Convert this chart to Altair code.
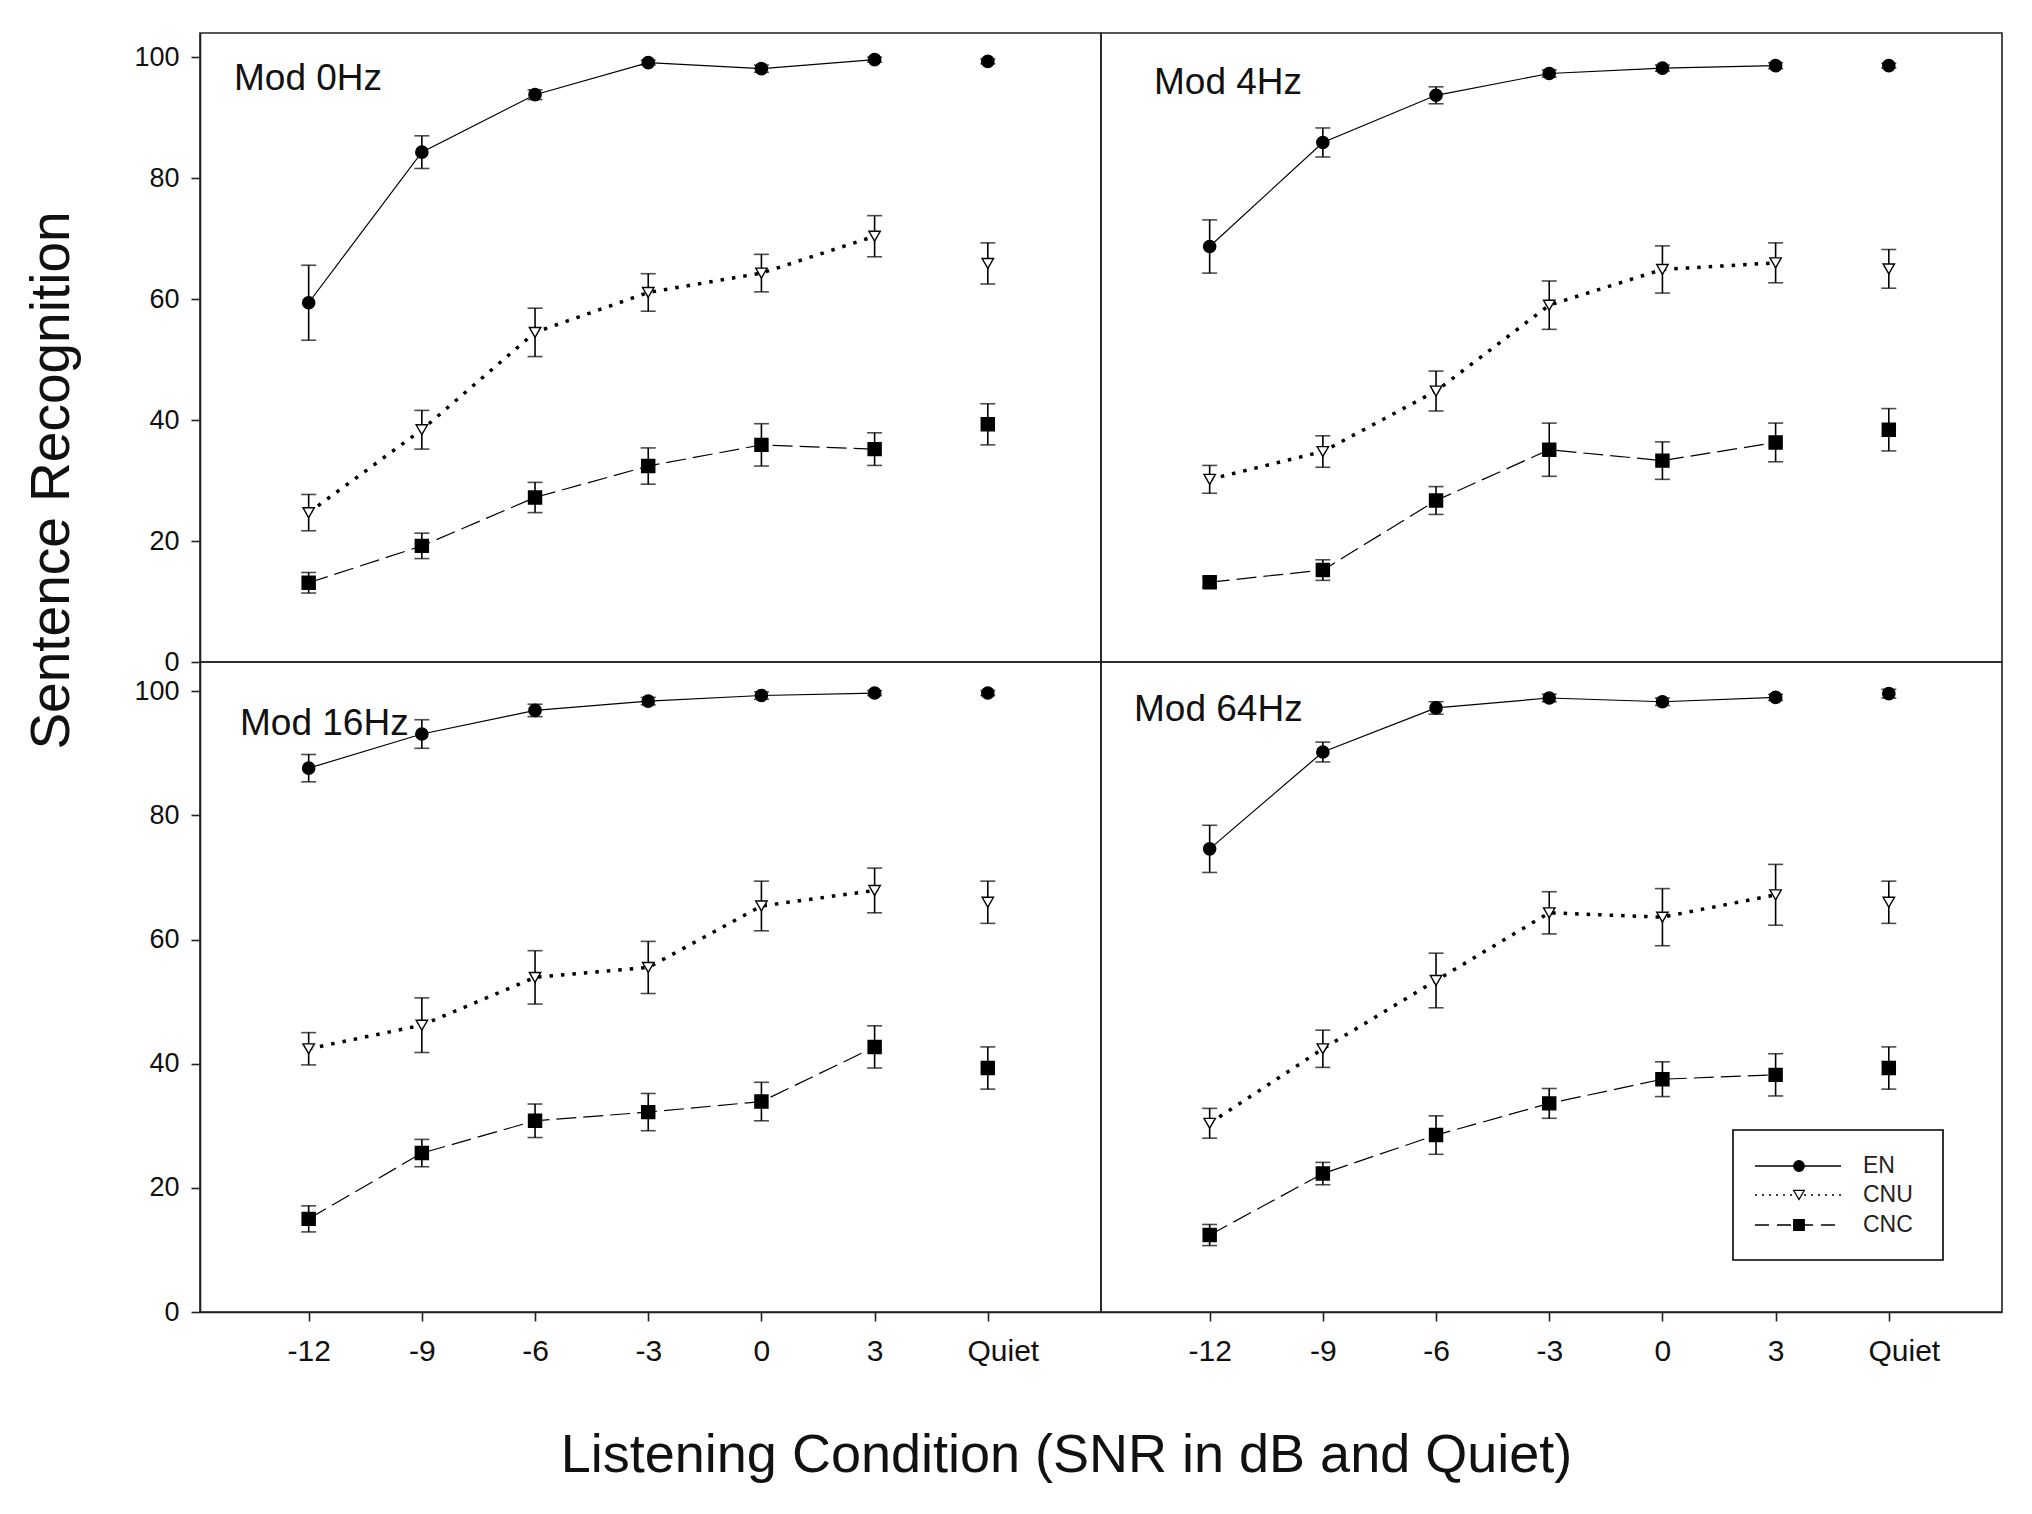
import json
import altair as alt
import pandas as pd

conditions = ["-12", "-9", "-6", "-3", "0", "3", "Quiet"]
series = ["EN", "CNU", "CNC"]
panel_names = ["Mod 0Hz", "Mod 4Hz", "Mod 16Hz", "Mod 64Hz"]

mod0_en = [59.4, 84.3, 93.8, 99.1, 98.1, 99.6, 99.3]
mod0_en_err = [6.2, 2.7, 0.8, 0.4, 0.6, 0.4, 0.4]
mod0_cnu = [24.7, 38.4, 54.5, 61.1, 64.3, 70.4, 65.9]
mod0_cnu_err = [3.0, 3.2, 4.0, 3.1, 3.1, 3.4, 3.4]
mod0_cnc = [13.1, 19.2, 27.2, 32.4, 35.9, 35.2, 39.3]
mod0_cnc_err = [1.7, 2.1, 2.5, 3.0, 3.5, 2.7, 3.4]

mod4_en = [68.7, 85.9, 93.7, 97.3, 98.2, 98.6, 98.6]
mod4_en_err = [4.4, 2.4, 1.4, 0.6, 0.5, 0.5, 0.4]
mod4_cnu = [30.2, 34.8, 44.8, 59.0, 64.9, 66.0, 65.0]
mod4_cnu_err = [2.3, 2.6, 3.3, 4.0, 3.9, 3.3, 3.2]
mod4_cnc = [13.2, 15.2, 26.7, 35.1, 33.3, 36.3, 38.4]
mod4_cnc_err = [0.8, 1.7, 2.3, 4.4, 3.1, 3.2, 3.5]

mod16_en = [87.6, 93.1, 96.9, 98.4, 99.3, 99.7, 99.7]
mod16_en_err = [2.2, 2.3, 1.0, 0.6, 0.6, 0.4, 0.4]
mod16_cnu = [42.4, 46.2, 53.9, 55.5, 65.4, 67.9, 66.0]
mod16_cnu_err = [2.6, 4.4, 4.3, 4.2, 4.0, 3.6, 3.4]
mod16_cnc = [15.0, 25.6, 30.8, 32.2, 33.9, 42.7, 39.3]
mod16_cnc_err = [2.1, 2.2, 2.7, 3.0, 3.1, 3.4, 3.4]

mod64_en = [74.6, 90.2, 97.3, 98.9, 98.3, 99.0, 99.6]
mod64_en_err = [3.8, 1.6, 1.0, 0.6, 0.6, 0.5, 0.7]
mod64_cnu = [30.4, 42.4, 53.4, 64.3, 63.6, 67.2, 66.0]
mod64_cnu_err = [2.4, 3.0, 4.4, 3.4, 4.6, 4.9, 3.4]
mod64_cnc = [12.4, 22.3, 28.5, 33.6, 37.5, 38.2, 39.3]
mod64_cnc_err = [1.7, 1.8, 3.1, 2.4, 2.8, 3.4, 3.4]

table = {
    "Mod 0Hz": {"EN": (mod0_en, mod0_en_err), "CNU": (mod0_cnu, mod0_cnu_err), "CNC": (mod0_cnc, mod0_cnc_err)},
    "Mod 4Hz": {"EN": (mod4_en, mod4_en_err), "CNU": (mod4_cnu, mod4_cnu_err), "CNC": (mod4_cnc, mod4_cnc_err)},
    "Mod 16Hz": {"EN": (mod16_en, mod16_en_err), "CNU": (mod16_cnu, mod16_cnu_err), "CNC": (mod16_cnc, mod16_cnc_err)},
    "Mod 64Hz": {"EN": (mod64_en, mod64_en_err), "CNU": (mod64_cnu, mod64_cnu_err), "CNC": (mod64_cnc, mod64_cnc_err)},
}

rows = []
for p in panel_names:
    for s in series:
        vals, errs = table[p][s]
        for i, (v, e) in enumerate(zip(vals, errs)):
            rows.append({"panel": p, "series": s, "idx": i, "cond": conditions[i],
                         "value": v, "lo": v - e, "hi": v + e})
df = pd.DataFrame(rows)

FONT = "Liberation Sans"
line_style = {
    "EN": dict(strokeWidth=1.2),
    "CNU": dict(strokeWidth=3.5, strokeDash=[3.5, 8], strokeCap="butt"),
    "CNC": dict(strokeWidth=1.2, strokeDash=[20, 7]),
}
point_style = {
    "EN": dict(shape="circle", fill="black", size=150),
    "CNU": dict(shape="triangle-down", fill="white", size=130),
    "CNC": dict(shape="square", fill="black", size=170),
}
label_expr = json.dumps(conditions) + "[datum.value]"


def panel(pname, lx, ly, row, col, ymax, h):
    d = df[df.panel == pname]
    xs = alt.Scale(domain=[-0.96, 7.0], nice=False, zero=False)
    ys = alt.Scale(domain=[0, ymax], nice=False, zero=True)
    if row == 1:
        xaxis = alt.Axis(
            values=list(range(7)), labelExpr=label_expr,
            labelOffset={"condition": {"test": "datum.value == 6", "value": 15}, "value": 0},
            title="Listening Condition (SNR in dB and Quiet)" if col == 0 else "",
            titleX=866, titleY=143, titleAlign="center", titleBaseline="middle",
            titleFontSize=54, titleFontWeight="normal", titleFont=FONT, titleColor="#111",
            labelPadding=15, labelFontSize=30,
        )
    else:
        xaxis = None
    if col == 0:
        yaxis = alt.Axis(
            values=[0, 20, 40, 60, 80, 100],
            title="Sentence Recognition" if row == 0 else "",
            titleX=-149, titleY=447, titleAngle=270, titleAlign="center", titleBaseline="middle",
            titleFontSize=55, titleFontWeight="normal", titleFont=FONT, titleColor="#111",
            labelPadding=12, labelFontSize=27,
        )
    else:
        yaxis = None

    def X(f):
        return alt.X(f"{f}:Q", scale=xs, axis=xaxis)

    def Y(f):
        return alt.Y(f"{f}:Q", scale=ys, axis=yaxis)

    layers = []
    for s in series:
        ds = d[(d.series == s) & (d.idx < 6)]
        layers.append(alt.Chart(ds).mark_line(color="black", **line_style[s])
                      .encode(x=X("idx"), y=Y("value")))
    layers.append(alt.Chart(d).mark_rule(color="black", strokeWidth=1.6)
                  .encode(x=X("idx"), y=Y("lo"), y2="hi:Q"))
    layers.append(alt.Chart(d).mark_tick(orient="horizontal", size=15, thickness=1.6, color="black")
                  .encode(x=X("idx"), y=Y("hi")))
    layers.append(alt.Chart(d).mark_tick(orient="horizontal", size=15, thickness=1.6, color="black")
                  .encode(x=X("idx"), y=Y("lo")))
    for s in series:
        ds = d[d.series == s]
        st = point_style[s]
        layers.append(alt.Chart(ds).mark_point(filled=True, stroke="black", strokeWidth=1.4,
                                                opacity=1, shape=st["shape"], fill=st["fill"],
                                                size=st["size"])
                      .encode(x=X("idx"), y=Y("value")))
    layers.append(alt.Chart(pd.DataFrame({"t": [pname]})).mark_text(
        align="left", baseline="middle", font=FONT, fontSize=37, color="#111")
        .encode(x=alt.value(lx), y=alt.value(ly), text="t:N"))

    if row == 1 and col == 1:
        layers.append(alt.Chart(pd.DataFrame({"a": [0]})).mark_rect(
            fill="white", stroke="black", strokeWidth=1.6)
            .encode(x=alt.value(632), x2=alt.value(842), y=alt.value(468), y2=alt.value(598)))
        leg_line = {
            "EN": dict(strokeWidth=1.3),
            "CNU": dict(strokeWidth=1.3, strokeDash=[2, 5]),
            "CNC": dict(strokeWidth=1.3, strokeDash=[14, 8]),
        }
        for s, yy in zip(series, [504, 533, 563]):
            one = pd.DataFrame({"t": [s]})
            layers.append(alt.Chart(one).mark_rule(color="black", **leg_line[s])
                          .encode(x=alt.value(654), x2=alt.value(740), y=alt.value(yy)))
            st = point_style[s]
            layers.append(alt.Chart(one).mark_point(filled=True, stroke="black", strokeWidth=1.3,
                                                     opacity=1, shape=st["shape"], fill=st["fill"],
                                                     size=110)
                          .encode(x=alt.value(698), y=alt.value(yy)))
            layers.append(alt.Chart(one).mark_text(align="left", baseline="middle", font=FONT,
                                                    fontSize=23, color="#222")
                          .encode(x=alt.value(762), y=alt.value(yy), text="t:N"))

    return alt.layer(*layers).properties(width=901, height=h)


chart = (
    alt.concat(
        panel("Mod 0Hz", 34, 46, 0, 0, 104.0, 629),
        panel("Mod 4Hz", 53, 50, 0, 1, 104.0, 629),
        panel("Mod 16Hz", 40, 62, 1, 0, 104.7, 650),
        panel("Mod 64Hz", 33, 48, 1, 1, 104.7, 650),
        columns=2, spacing=0,
    )
    .properties(bounds="flush", padding={"left": 15, "top": 24, "right": 10, "bottom": 10})
    .configure(font=FONT)
    .configure_view(stroke="#222", strokeWidth=1.6)
    .configure_axis(
        grid=False, domainColor="#222", domainWidth=1.6, tickColor="#222", tickWidth=1.6,
        tickSize=9, labelFont=FONT, labelFontSize=26, labelColor="#111",
    )
)

chart.save("out.html", embed_options={"renderer": "svg", "actions": False})
